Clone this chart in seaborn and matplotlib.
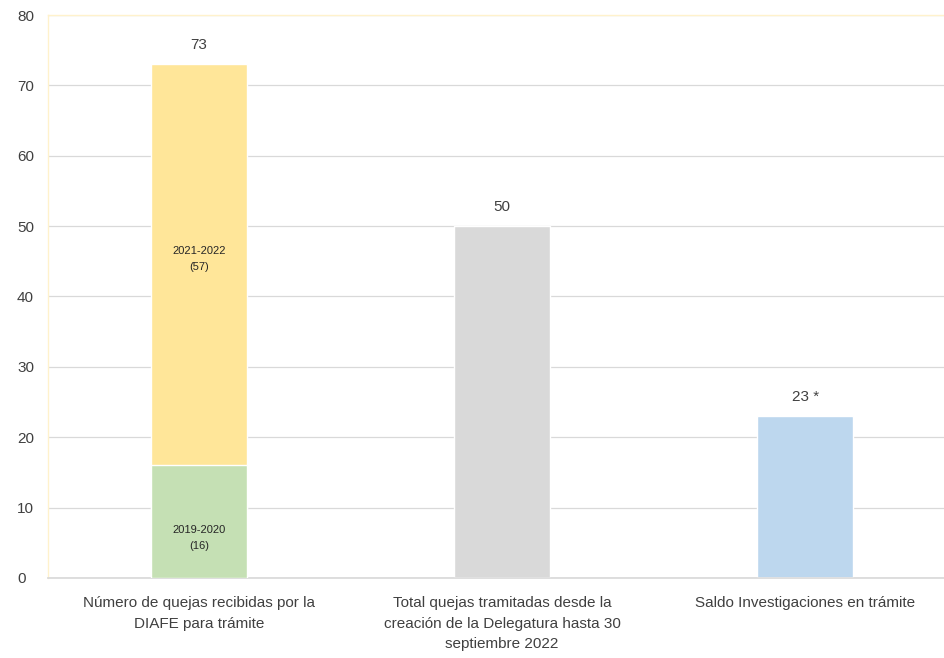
import matplotlib
matplotlib.use("Agg")
import matplotlib.pyplot as plt
import seaborn as sns
import pandas as pd

categories = ["Número de quejas recibidas por la\nDIAFE para trámite",
              "Total quejas tramitadas desde la\ncreación de la Delegatura hasta 30\nseptiembre 2022",
              "Saldo Investigaciones en trámite"]
totals = [73, 50, 23]
bottom_segment = [16, 0, 0]
total_labels = ["73", "50", "23 *"]
segment_labels = ["2019-2020\n(16)", "2021-2022\n(57)"]
segment_values = [16, 57]

sns.set_theme(style="white")
plt.rcParams['font.family'] = ['Liberation Sans Narrow', 'Liberation Sans', 'DejaVu Sans']

fig = plt.figure(figsize=(9.45, 6.58), dpi=100)
ax = fig.add_axes([0.0503, 0.1216, 0.962, 0.8556])

df = pd.DataFrame({"cat": categories, "total": totals, "bottom": bottom_segment})
sns.barplot(data=df, x="cat", y="total", hue="cat", palette=["#FFE699", "#D9D9D9", "#BDD7EE"],
            width=0.317, legend=False, ax=ax, saturation=1, zorder=2)
sns.barplot(data=df, x="cat", y="bottom", color="#C5E0B4", width=0.317, ax=ax, saturation=1, zorder=3)

ax.set_ylim(0, 80)
ax.set_yticks(range(0, 81, 10))
ax.yaxis.grid(True, color="#D9D9D9", linewidth=0.9, zorder=0)
ax.set_axisbelow(True)
ax.set_xlabel("")
ax.set_ylabel("")
ax.tick_params(axis="y", labelsize=11, colors="#404040", length=0, pad=22)
ax.tick_params(axis="x", labelsize=11, colors="#404040", length=0, pad=13)
for lab in ax.get_yticklabels():
    lab.set_horizontalalignment("left")
for lab in ax.get_xticklabels():
    lab.set_linespacing(1.6)
for side in ["top", "left", "right"]:
    ax.spines[side].set_color("#FFF2CC")
    ax.spines[side].set_linewidth(1.0)
ax.spines["bottom"].set_color("#D9D9D9")

for i, (v, t) in enumerate(zip(totals, total_labels)):
    ax.text(i, v + 1.7, t, ha="center", va="bottom", fontsize=11, color="#404040")

ax.text(0, 5.7, segment_labels[0], ha="center", va="center",
        fontsize=8, color="#262626", linespacing=1.8)
ax.text(0, 45.3, segment_labels[1], ha="center", va="center",
        fontsize=8, color="#262626", linespacing=1.8)

fig.savefig("out.png", dpi=100)
